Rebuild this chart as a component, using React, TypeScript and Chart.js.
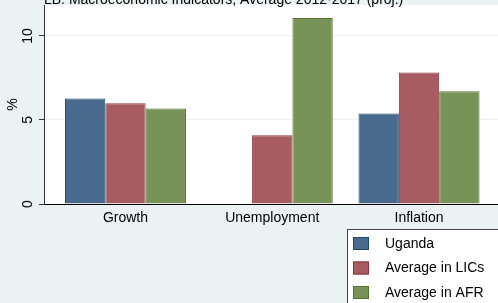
import React, { useEffect, useRef } from 'react';
import { Chart, registerables } from 'chart.js';

Chart.register(...registerables);

const titleText = 'LB. Macroeconomic Indicators, Average 2012-2017 (proj.)';
const categories = ['Growth', 'Unemployment', 'Inflation'];
const seriesNames = ['Uganda', 'Average in LICs', 'Average in AFR'];
const ugandaValues: (number | null)[] = [6.28, null, 5.38];
const licsValues: (number | null)[] = [6.0, 4.09, 7.83];
const afrValues: (number | null)[] = [5.68, 11.07, 6.71];
const yTicks = [0, 5, 10];
const yTitle = '%';

const fillColors = ['rgb(72,106,140)', 'rgb(166,92,97)', 'rgb(120,147,88)'];
const edgeColors = ['rgb(30,72,112)', 'rgb(144,53,59)', 'rgb(85,117,47)'];

const FONT = '"Liberation Sans", Arial, Helvetica, sans-serif';
const BG = 'rgb(234,242,243)';

const bgPlugin = {
  id: 'bgPlugin',
  beforeDraw(chart: any) {
    const { ctx, chartArea, width, height } = chart;
    ctx.save();
    ctx.fillStyle = BG;
    ctx.fillRect(0, 0, width, height);
    ctx.fillStyle = '#ffffff';
    ctx.fillRect(chartArea.left, chartArea.top, chartArea.right - chartArea.left, chartArea.bottom - chartArea.top);
    ctx.restore();
  },
};

const titleLegendPlugin = {
  id: 'titleLegendPlugin',
  afterDraw(chart: any) {
    const { ctx, chartArea } = chart;
    ctx.save();
    // title (clipped at the top like the reference)
    ctx.font = `14px ${FONT}`;
    ctx.fillStyle = '#000';
    ctx.textAlign = 'left';
    ctx.textBaseline = 'alphabetic';
    ctx.fillText(titleText, chartArea.left, 4);

    // legend box
    const bx = 347.5;
    const by = 229.5;
    ctx.fillStyle = '#ffffff';
    ctx.fillRect(bx, by, 200, 100);
    ctx.strokeStyle = '#444';
    ctx.lineWidth = 1;
    ctx.strokeRect(bx, by, 200, 100);

    const rowY = [243.5, 268, 292.5];
    chart.data.datasets.forEach((ds: any, i: number) => {
      const cy = rowY[i];
      ctx.fillStyle = ds.backgroundColor;
      ctx.fillRect(353, cy - 6.5, 16, 13);
      ctx.strokeStyle = ds.borderColor;
      ctx.strokeRect(353.5, cy - 6, 15, 12);
      ctx.fillStyle = '#000';
      ctx.font = `14px ${FONT}`;
      ctx.textBaseline = 'middle';
      ctx.fillText(ds.label, 385, cy + 0.5);
    });
    ctx.restore();
  },
};

export default function App() {
  const canvasRef = useRef<HTMLCanvasElement | null>(null);

  useEffect(() => {
    document.body.style.margin = '0';
    const canvas = canvasRef.current;
    if (!canvas) return;
    const seriesValues = [ugandaValues, licsValues, afrValues];
    const chart = new Chart(canvas, {
      type: 'bar',
      data: {
        datasets: seriesValues.map((vals, s) => ({
          label: seriesNames[s],
          data: vals.map((v, i) => ({ x: i, y: v })) as any,
          backgroundColor: fillColors[s],
          borderColor: edgeColors[s],
          borderWidth: 1,
          categoryPercentage: 0.8245,
          barPercentage: 1,
        })),
      },
      options: {
        animation: false,
        responsive: false,
        maintainAspectRatio: false,
        layout: { padding: { top: 5, left: 0, right: 0, bottom: 0 } },
        plugins: {
          legend: { display: false },
          tooltip: { enabled: false },
          title: { display: false },
        },
        scales: {
          x: {
            type: 'linear',
            offset: false,
            min: -0.555,
            max: 2.538,
            grid: { display: false },
            border: { display: true, color: '#000', width: 1 },
            ticks: {
              font: { family: FONT, size: 14 },
              color: '#000',
              padding: -2,
              maxRotation: 0,
              autoSkip: false,
              callback: (v: any) => categories[v as number] ?? '',
            },
            afterBuildTicks: (axis: any) => {
              axis.ticks = categories.map((_, i) => ({ value: i }));
            },
            afterFit: (axis: any) => {
              axis.height = 99;
              axis.paddingLeft = 0;
              axis.paddingRight = 0;
            },
          },
          y: {
            min: 0,
            max: 11.84,
            afterBuildTicks: (axis: any) => {
              axis.ticks = yTicks.map((v) => ({ value: v }));
            },
            ticks: {
              font: { family: FONT, size: 14 },
              color: '#000',
              padding: 3,
              minRotation: 90,
              maxRotation: 90,
              crossAlign: 'center',
            },
            grid: { color: BG, tickColor: '#333', tickLength: 5, lineWidth: 1 },
            border: { display: true, color: '#333', width: 1 },
            title: {
              display: true,
              text: yTitle,
              font: { family: FONT, size: 14 },
              color: '#000',
              padding: { top: 5, bottom: 0 },
            },
            afterFit: (axis: any) => {
              axis.width = 44;
              axis.paddingTop = 0;
              axis.paddingBottom = 0;
            },
          },
        },
      } as any,
      plugins: [bgPlugin, titleLegendPlugin],
    });
    return () => chart.destroy();
  }, []);

  return (
    <div style={{ position: 'absolute', left: 0, top: 0, width: 498, height: 303 }}>
      <canvas ref={canvasRef} width={498} height={303} style={{ display: 'block' }} />
    </div>
  );
}
